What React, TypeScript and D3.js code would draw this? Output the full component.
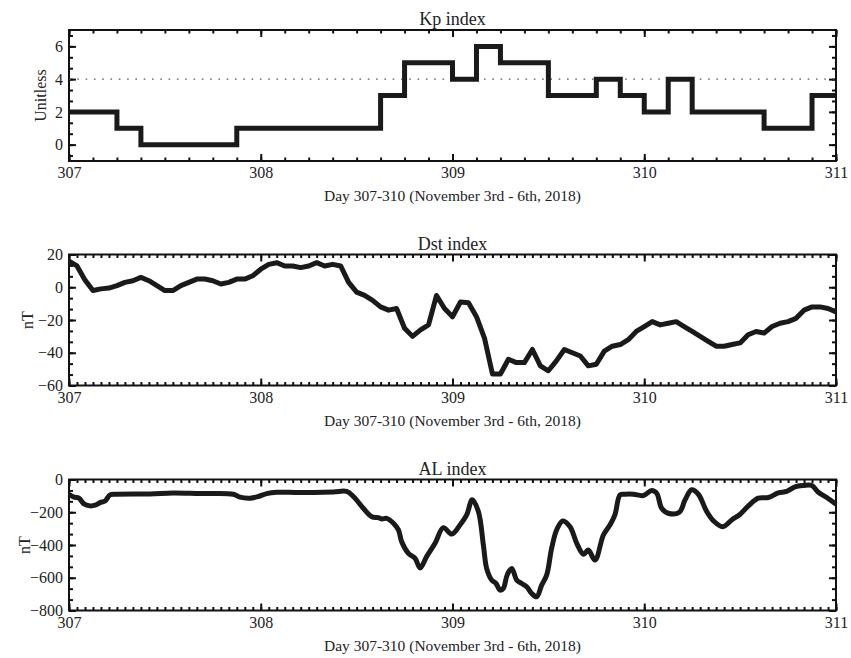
import React, { useEffect, useRef } from 'react';
import * as d3 from 'd3';

// Kp index, 3-hourly values from day 307.0
const kpValues = [
  2, 2, 1, 0, 0, 0, 0, 1, 1, 1, 1, 1, 1, 3, 5, 5,
  4, 6, 5, 5, 3, 3, 4, 3, 2, 4, 2, 2, 2, 1, 1, 3,
];

// Dst index, hourly values (nT) from day 307.0 to 311.0
const dstValues = [
  16, 13, 4.5, -2, -1, -0.5, 1, 3, 4, 6, 4, 1, -2, -2, 1, 3,
  5, 5, 4, 2, 3, 5, 5, 7, 11, 14, 15, 13, 13, 12, 13, 15,
  13, 14, 13, 3, -3, -5, -8, -12, -14, -13, -25, -30, -26, -23, -5, -13,
  -18, -9, -9.5, -18, -31, -53, -53, -44, -46, -46, -38, -48, -51, -45, -38, -40,
  -42, -48, -47, -39, -36, -35, -32, -27, -24, -21, -23, -22, -21, -24, -27, -30,
  -33, -36, -36, -35, -34, -29, -27, -28, -24, -22, -21, -19, -14, -12, -12, -13,
  -15,
];

// AL index (nT), sampled along the curve
const alDays = [
  307.0, 307.026, 307.052, 307.078, 307.109, 307.136, 307.162, 307.188, 307.214, 307.249,
  307.422, 307.544, 307.683, 307.857, 307.892, 307.944, 307.987, 308.031, 308.083, 308.205,
  308.379, 308.448, 308.483, 308.535, 308.579, 308.613, 308.631, 308.657, 308.692, 308.718,
  308.735, 308.77, 308.805, 308.831, 308.865, 308.909, 308.952, 308.996, 309.039, 309.074,
  309.103, 309.135, 309.161, 309.178, 309.204, 309.227, 309.248, 309.265, 309.286, 309.309,
  309.335, 309.361, 309.387, 309.413, 309.439, 309.465, 309.491, 309.517, 309.543, 309.575,
  309.613, 309.648, 309.683, 309.708, 309.743, 309.787, 309.821, 309.847, 309.874, 309.9,
  309.943, 309.995, 310.039, 310.065, 310.091, 310.125, 310.183, 310.213, 310.247, 310.282,
  310.326, 310.36, 310.409, 310.456, 310.5, 310.543, 310.595, 310.647, 310.699, 310.743,
  310.786, 310.83, 310.874, 310.908, 310.952, 311.0,
];
const alValues = [
  -90, -108, -114, -149, -161, -157, -141, -131, -94, -90,
  -88, -82, -86, -90, -108, -114, -104, -86, -78, -80,
  -76, -73, -104, -176, -227, -233, -241, -237, -267, -308,
  -380, -451, -482, -540, -471, -390, -294, -333, -278, -216,
  -124, -196, -400, -543, -614, -635, -676, -665, -580, -543,
  -614, -635, -655, -696, -716, -645, -584, -420, -308, -253,
  -288, -390, -457, -431, -492, -339, -278, -216, -94, -90,
  -90, -98, -67, -84, -176, -206, -200, -124, -63, -90,
  -196, -251, -288, -247, -212, -161, -114, -110, -82, -73,
  -45, -37, -37, -78, -110, -151,
];

const dayTicks = [307, 308, 309, 310, 311];
const xTitle = 'Day 307-310 (November 3rd - 6th, 2018)';

const FONT = "'Liberation Serif', 'Times New Roman', serif";

const App: React.FC = () => {
  const ref = useRef<SVGSVGElement | null>(null);

  useEffect(() => {
    const svg = d3.select(ref.current);
    svg.selectAll('*').remove();

    const left = 69;
    const right = 836;
    const ph = 131;
    const x = d3.scaleLinear().domain([307, 311]).range([left, right]);

    const panels = [
      {
        title: 'Kp index', ylabel: 'Unitless', top: 30, domain: [-1, 7], major: [0, 2, 4, 6],
        minorStep: 2 / 3, xMinor: 1 / 8, ylabX: 46,
      },
      {
        title: 'Dst index', ylabel: 'nT', top: 254.5, domain: [-60, 20], major: [-60, -40, -20, 0, 20],
        minorStep: 20 / 3, xMinor: 1 / 24, ylabX: 33,
      },
      {
        title: 'AL index', ylabel: 'nT', top: 479.5, domain: [-800, 0], major: [-800, -600, -400, -200, 0],
        minorStep: 200 / 3, xMinor: 1 / 24, ylabX: 30,
      },
    ];

    panels.forEach((p, i) => {
      const g = svg.append('g');
      const bottom = p.top + ph;
      const y = d3.scaleLinear().domain(p.domain).range([bottom, p.top]);

      const yMinor: number[] = [];
      for (let k = -20; k <= 20; k++) {
        const v = k * p.minorStep;
        if (v >= p.domain[0] - 1e-6 && v <= p.domain[1] + 1e-6) yMinor.push(v);
      }
      const xMinor = d3.range(0, Math.round(4 / p.xMinor) + 1).map((k) => 307 + k * p.xMinor);

      const clean = (sel: d3.Selection<SVGGElement, unknown, null, undefined>) => {
        sel.select('.domain').remove();
        sel.selectAll('line').attr('stroke', '#111').attr('stroke-width', 2);
        sel.selectAll('text').attr('font-family', FONT).attr('font-size', 16).attr('fill', '#222');
      };

      // minor ticks
      g.append('g').attr('transform', `translate(0,${bottom})`)
        .call(d3.axisBottom(x).tickValues(xMinor).tickSize(-3.5).tickFormat(() => ''))
        .call(clean);
      g.append('g').attr('transform', `translate(0,${p.top})`)
        .call(d3.axisTop(x).tickValues(xMinor).tickSize(-3.5).tickFormat(() => ''))
        .call(clean);
      g.append('g').attr('transform', `translate(${left},0)`)
        .call(d3.axisLeft(y).tickValues(yMinor).tickSize(-4).tickFormat(() => ''))
        .call(clean);
      g.append('g').attr('transform', `translate(${right},0)`)
        .call(d3.axisRight(y).tickValues(yMinor).tickSize(-4).tickFormat(() => ''))
        .call(clean);

      // major ticks with labels
      g.append('g').attr('transform', `translate(0,${bottom})`)
        .call(d3.axisBottom(x).tickValues(dayTicks).tickSize(-7).tickPadding(6).tickFormat(d3.format('d')))
        .call(clean);
      g.append('g').attr('transform', `translate(0,${p.top})`)
        .call(d3.axisTop(x).tickValues(dayTicks).tickSize(-7).tickFormat(() => ''))
        .call(clean);
      g.append('g').attr('transform', `translate(${left},0)`)
        .call(d3.axisLeft(y).tickValues(p.major).tickSize(-7).tickPadding(6).tickFormat(d3.format('d')))
        .call(clean);
      g.append('g').attr('transform', `translate(${right},0)`)
        .call(d3.axisRight(y).tickValues(p.major).tickSize(-7).tickFormat(() => ''))
        .call(clean);

      // frame
      g.append('rect')
        .attr('x', left).attr('y', p.top).attr('width', right - left).attr('height', ph)
        .attr('fill', 'none').attr('stroke', '#111').attr('stroke-width', 2);

      // data
      if (i === 0) {
        g.append('line')
          .attr('x1', left).attr('x2', right).attr('y1', y(4)).attr('y2', y(4))
          .attr('stroke', '#555').attr('stroke-width', 1.4).attr('stroke-dasharray', '1.6,6.7');
        const pts: [number, number][] = kpValues.map((v, k) => [307 + k / 8, v]);
        pts.push([311, kpValues[kpValues.length - 1]]);
        const line = d3.line<[number, number]>().x((d) => x(d[0])).y((d) => y(d[1])).curve(d3.curveStepAfter);
        g.append('path').attr('d', line(pts)).attr('fill', 'none')
          .attr('stroke', '#1a1a1a').attr('stroke-width', 5).attr('stroke-linejoin', 'miter');
      } else if (i === 1) {
        const pts: [number, number][] = dstValues.map((v, k) => [307 + k / 24, v]);
        const line = d3.line<[number, number]>().x((d) => x(d[0])).y((d) => y(d[1]));
        g.append('path').attr('d', line(pts)).attr('fill', 'none')
          .attr('stroke', '#1a1a1a').attr('stroke-width', 5).attr('stroke-linejoin', 'round');
      } else {
        const pts: [number, number][] = alValues.map((v, k) => [alDays[k], v]);
        const line = d3.line<[number, number]>().x((d) => x(d[0])).y((d) => y(d[1]))
          .curve(d3.curveCatmullRom.alpha(0.5));
        g.append('path').attr('d', line(pts)).attr('fill', 'none')
          .attr('stroke', '#1a1a1a').attr('stroke-width', 5).attr('stroke-linejoin', 'round');
      }

      // texts
      g.append('text').attr('x', (left + right) / 2).attr('y', p.top - 5)
        .attr('text-anchor', 'middle').attr('font-family', FONT).attr('font-size', 18).attr('fill', '#222')
        .text(p.title);
      g.append('text').attr('x', (left + right) / 2).attr('y', bottom + 40)
        .attr('text-anchor', 'middle').attr('font-family', FONT).attr('font-size', 15.5).attr('fill', '#222')
        .text(xTitle);
      g.append('text')
        .attr('transform', `translate(${p.ylabX},${(p.top + bottom) / 2}) rotate(-90)`)
        .attr('text-anchor', 'middle').attr('font-family', FONT).attr('font-size', 16).attr('fill', '#222')
        .text(p.ylabel);
    });
  }, []);

  return (
    <svg
      ref={ref}
      width={851}
      height={658}
      style={{ position: 'absolute', left: 0, top: 0, background: '#fff' }}
    />
  );
};

export default App;
